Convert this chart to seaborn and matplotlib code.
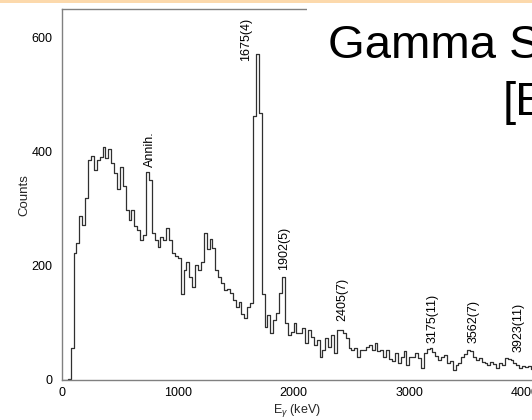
import numpy as np
import pandas as pd
import matplotlib
matplotlib.use("Agg")
import matplotlib.pyplot as plt
from matplotlib.patches import Rectangle
from matplotlib.ticker import MultipleLocator
import seaborn as sns

# Gamma-ray spectrum, counts per 25 keV bin starting at 0 keV
BIN_WIDTH = 25
counts = [
    0, 0, 2, 56, 223, 240, 288, 272, 319, 386,
    392, 368, 385, 391, 409, 389, 405, 380, 363, 335,
    373, 340, 298, 280, 298, 270, 263, 245, 254, 365,
    351, 258, 245, 233, 251, 246, 266, 245, 222, 217,
    214, 150, 193, 207, 181, 163, 202, 193, 207, 258,
    230, 247, 231, 193, 181, 170, 158, 160, 152, 140,
    128, 137, 115, 109, 128, 135, 463, 572, 468, 150,
    93, 114, 82, 105, 117, 152, 181, 100, 79, 84,
    100, 82, 82, 91, 65, 88, 75, 61, 70, 40,
    53, 74, 58, 79, 47, 88, 88, 82, 74, 56,
    53, 56, 40, 53, 53, 58, 61, 53, 65, 51,
    53, 40, 53, 37, 33, 47, 30, 40, 51, 27,
    40, 40, 47, 38, 21, 47, 54, 56, 49, 42,
    35, 40, 44, 30, 33, 18, 26, 30, 40, 46,
    53, 50, 40, 35, 38, 32, 29, 26, 32, 28,
    21, 30, 27, 38, 36, 35, 30, 26, 21, 24,
    22, 25, 20,
]

# Peak annotations: text, position (keV), height of the label base (counts)
peak_labels = ["Annih.", "1675(4)", "1902(5)", "2405(7)", "3175(11)", "3562(7)", "3923(11)"]
peak_label_x = [760, 1590, 1918, 2419, 3205, 3559, 3940]
peak_label_y = [374, 560, 193, 103, 65, 65, 49]

x_ticks = [0, 1000, 2000, 3000, 4000]
y_ticks = [0, 200, 400, 600]

energy = np.arange(len(counts)) * BIN_WIDTH
edges = [float(e) for e in np.append(energy, energy[-1] + BIN_WIDTH)]
df = pd.DataFrame({"energy": energy, "counts": counts})

sns.set_theme(style="white")
plt.rcParams["font.family"] = ["Liberation Sans", "DejaVu Sans"]
plt.rcParams["mathtext.fontset"] = "custom"
plt.rcParams["mathtext.rm"] = "Liberation Sans"
plt.rcParams["mathtext.it"] = "Liberation Sans:italic"

fig = plt.figure(figsize=(5.32, 4.2), dpi=100)
fig.patch.set_facecolor("white")
ax = fig.add_axes([62 / 532, 40 / 420, 470 / 532, 370.7 / 420])

sns.histplot(data=df, x="energy", weights="counts", bins=edges,
             element="step", fill=False, color="#303030", linewidth=0.9, ax=ax)

ax.set_xlim(0, 4060)
ax.set_ylim(0, 650)
ax.set_xticks(x_ticks)
ax.set_yticks(y_ticks)
ax.xaxis.set_minor_locator(MultipleLocator(500))
ax.yaxis.set_minor_locator(MultipleLocator(100))
ax.tick_params(axis="both", which="both", direction="in", color="#707070",
               labelsize=9, labelcolor="black")
ax.tick_params(axis="both", which="major", length=3, width=0.8)
ax.tick_params(axis="both", which="minor", length=2, width=0.8)
ax.tick_params(axis="y", which="major", pad=7)
ax.tick_params(axis="x", which="major", pad=5)

for side in ["left", "bottom", "top"]:
    ax.spines[side].set_color("#808080")
    ax.spines[side].set_linewidth(1.0)
ax.spines["right"].set_visible(False)

ax.set_xlabel(r"E$_\gamma$ (keV)", fontsize=9, labelpad=2)
ax.set_ylabel("Counts", fontsize=9.5, labelpad=1)

for txt, xv, yv in zip(peak_labels, peak_label_x, peak_label_y):
    ax.text(xv, yv, txt, rotation=90, ha="center", va="bottom", fontsize=9, color="black")

# Slide header: light orange band and white title panel
fig.patches.append(Rectangle((0, 1 - 2.8 / 420), 1, 2.8 / 420, transform=fig.transFigure,
                             facecolor="#FCD9AC", edgecolor="none", zorder=5))
fig.patches.append(Rectangle((307 / 532, 1 - 150 / 420), 225 / 532, 147 / 420,
                             transform=fig.transFigure, facecolor="white",
                             edgecolor="none", zorder=5))
fig.text(328 / 532, 1 - 58 / 420, "Gamma Spectrum", fontsize=34, color="black",
         ha="left", va="baseline", zorder=6)
fig.text(503 / 532, 1 - 115 / 420, "[E\u03b3]", fontsize=34, color="black",
         ha="left", va="baseline", zorder=6)

fig.savefig("out.png", dpi=100)
